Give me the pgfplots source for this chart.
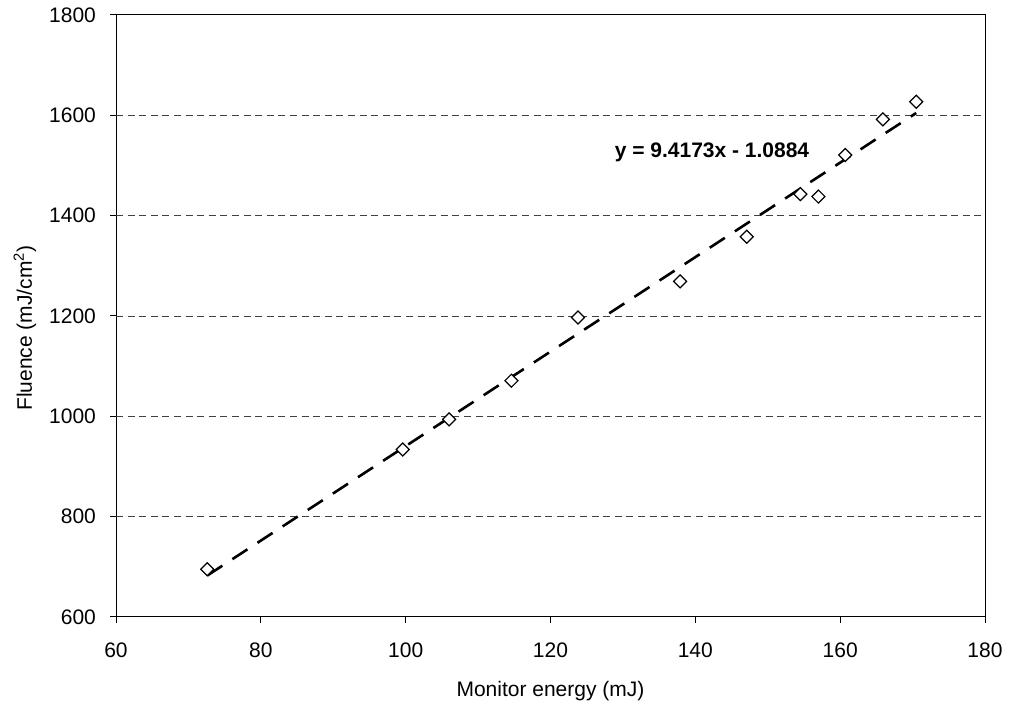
\documentclass[border=0pt]{standalone}
\usepackage{fontspec}
\setmainfont{Liberation Sans}
\usepackage{pgfplots}
\pgfplotsset{compat=1.18}

\newcommand{\chartfont}{\fontsize{10.5}{12.6}\selectfont}

\begin{document}
\begin{tikzpicture}
\begin{axis}[
  scale only axis,
  width=434.5pt, height=301pt,
  xmin=60, xmax=180,
  ymin=600, ymax=1800,
  xtick={60,80,...,180},
  ytick={600,800,...,1800},
  % grid only inside the box, so the frame stays solid
  extra y ticks={800,1000,1200,1400,1600},
  extra y tick labels={},
  extra y tick style={ymajorgrids=true, major tick length=0pt},
  tick align=outside,
  xtick pos=bottom, ytick pos=left,
  major tick length=3pt,
  tick style={black, line width=0.5pt},
  axis line style={black, line width=0.5pt},
  grid style={black!75, line width=0.45pt, dash pattern=on 3.5pt off 2.3pt},
  /pgf/number format/assume math mode=true,
  /pgf/number format/1000 sep={},
  tick label style={font=\chartfont},
  xticklabel style={yshift=-6.5pt},
  yticklabel style={xshift=-3.5pt},
  xlabel={Monitor energy (mJ)},
  ylabel={Fluence (mJ/cm\textsuperscript{2})},
  xlabel style={font=\chartfont, at={(rel axis cs:0.5,0)}, anchor=base, yshift=-40pt},
  ylabel style={font=\chartfont, at={(rel axis cs:0,0.48)}, anchor=center, yshift=45.5pt},
]
\addplot[only marks, mark=square*, mark size=2.3pt,
  mark options={rotate=45, fill=white, draw=black, line width=0.6pt}]
  coordinates {
  (72.6, 695)
  (99.6, 934)
  (106.0, 994)
  (114.6, 1071)
  (123.8, 1197)
  (137.9, 1269)
  (147.1, 1358)
  (154.5, 1443)
  (157.0, 1438)
  (160.7, 1521)
  (165.9, 1592)
  (170.5, 1627)
};
% linear trend line y = 9.4173x - 1.0884
\addplot[black, line width=1.3pt, dash pattern=on 9pt off 6pt]
  coordinates {(72.6, 682.6) (170.5, 1604.6)};
\node[font=\chartfont\bfseries] at (axis cs:142.3,1527) {y = 9.4173x - 1.0884};
\end{axis}
\pgfresetboundingbox
\path (-58pt,-43.5pt) rectangle (447pt,308.5pt);
\end{tikzpicture}
\end{document}
